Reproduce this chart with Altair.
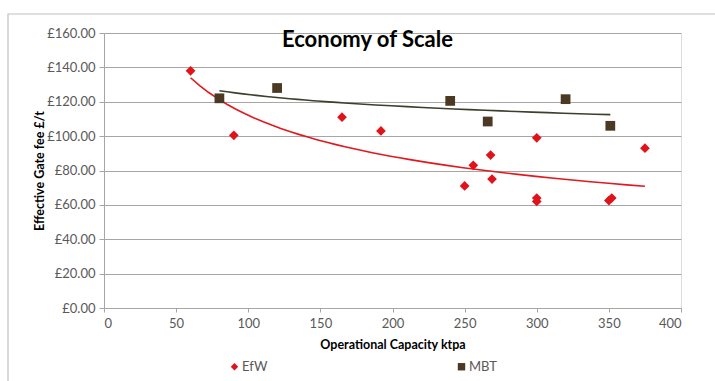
import altair as alt
import pandas as pd

# EfW points
efw_x = [60, 90, 165, 192, 250, 256, 268, 269, 300, 300, 300, 350, 352, 375]
efw_y = [138, 100.5, 111, 103, 71, 83, 89, 75, 99, 64, 62, 62.5, 64, 93]
# MBT points
mbt_x = [80, 120, 240, 266, 320, 351]
mbt_y = [122, 128, 120.5, 108.5, 121.5, 106]

series_names = ["EfW", "MBT"]
point_colors = ["#e0131b", "#4b3924"]
line_colors = ["#e0191e", "#3e3e2c"]
y_ticks = [0, 20, 40, 60, 80, 100, 120, 140, 160]
x_ticks = [0, 50, 100, 150, 200, 250, 300, 350, 400]

df = pd.DataFrame({
    "cap": efw_x + mbt_x,
    "fee": efw_y + mbt_y,
    "series": ["EfW"] * len(efw_x) + ["MBT"] * len(mbt_x),
})

FONT = "Lato"
GREY = "#595959"
AX = "#a6a6a6"

xenc = alt.X("cap:Q", scale=alt.Scale(domain=[0, 400], nice=False),
             axis=alt.Axis(values=x_ticks, title="Operational Capacity ktpa", grid=False,
                           domainColor=AX, tickColor=AX, tickSize=4,
                           labelPadding=5, titlePadding=8, labelOverlap=False,
                           labelFont=FONT, labelFontSize=13, labelColor=GREY,
                           titleFont=FONT, titleFontSize=12.5, titleFontWeight="bold",
                           titleColor="#000000"))
yenc = alt.Y("fee:Q", scale=alt.Scale(domain=[0, 160], nice=False),
             axis=alt.Axis(values=y_ticks, tickCount=9, labelExpr="'£' + format(datum.value, '.2f')",
                           title="Effective Gate fee £/t",
                           gridColor=AX, domainColor=AX, tickColor=AX,
                           tickSize=5, labelPadding=4, titlePadding=0, labelOverlap=False,
                           labelFont=FONT, labelFontSize=13, labelColor=GREY,
                           titleFont=FONT, titleFontSize=12.5, titleFontWeight="bold",
                           titleColor="#000000"))

base = alt.Chart(df)

def trend(name, col):
    return base.transform_filter(alt.datum.series == name).transform_regression(
        "cap", "fee", method="pow"
    ).mark_line(strokeWidth=1.6, color=col).encode(x=xenc, y=yenc)

line_efw = trend("EfW", line_colors[0])
line_mbt = trend("MBT", line_colors[1])

leg = dict(title=None, orient="none", direction="horizontal",
           legendX=124, legendY=327, columnPadding=186,
           symbolSize=55, labelFontSize=13, labelColor=GREY,
           labelFont=FONT, symbolOpacity=1, labelOffset=1)

points = base.mark_point(filled=True, opacity=1, size=95).encode(
    x=xenc, y=yenc,
    color=alt.Color("series:N", scale=alt.Scale(domain=series_names, range=point_colors),
                    legend=alt.Legend(**leg)),
    shape=alt.Shape("series:N", scale=alt.Scale(domain=series_names, range=["diamond", "square"]),
                    legend=alt.Legend(**leg)),
)

frame = alt.Chart(pd.DataFrame({"a": [0]})).mark_rect(fill=None, stroke="#c0c0c0", strokeWidth=1.2).encode(
    x=alt.value(-96), x2=alt.value(650), y=alt.value(-19), y2=alt.value(370)
)

chart = alt.layer(frame, line_efw, line_mbt, points).properties(
    width=577, height=275,
    autosize=alt.AutoSizeParams(type="none"),
    padding={"left": 104, "top": 33, "right": 34, "bottom": 73},
    title=alt.TitleParams("Economy of Scale", font=FONT, fontSize=22, fontWeight="bold",
                          color="#000000", anchor="middle", baseline="top", dx=-25, dy=43),
).configure_view(stroke=None).configure(background="white")

chart.save("out.html", embed_options={"renderer": "svg", "actions": False})
